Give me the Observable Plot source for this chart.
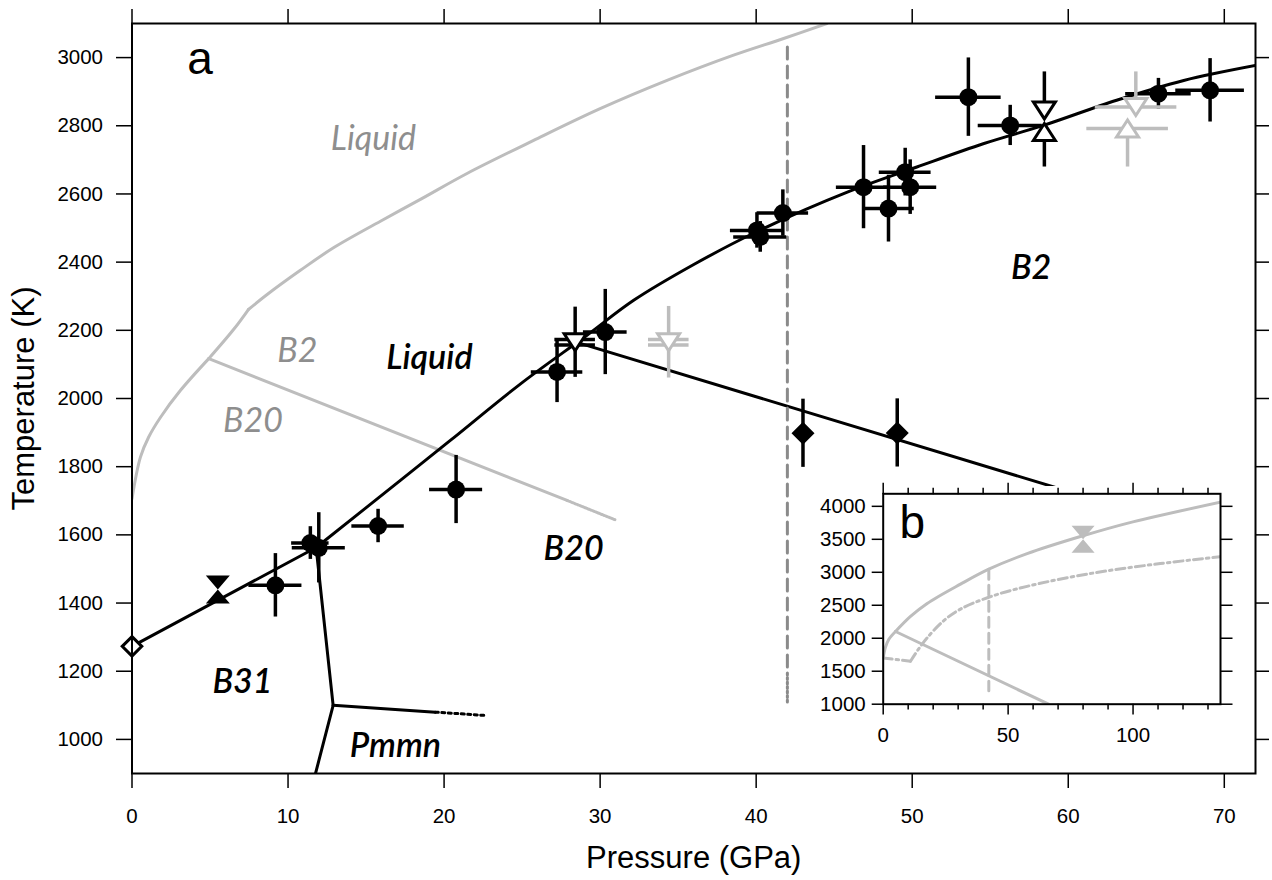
<!DOCTYPE html>
<html><head><meta charset="utf-8">
<script src="https://cdn.jsdelivr.net/npm/d3@7"></script>
<script src="https://cdn.jsdelivr.net/npm/@observablehq/plot@0.6"></script>
<style>
body{margin:0;background:#fff;}
#wrap{position:relative;width:1272px;height:880px;overflow:hidden;background:#fff;}
#main{position:absolute;left:0;top:0;}
#inset{position:absolute;left:805px;top:486px;}
</style></head><body><div id="wrap"><div id="main"></div><div id="inset"></div></div>
<script>
// ================= MAIN PANEL (a) DATA =================
const xTicks = [0, 10, 20, 30, 40, 50, 60, 70];
const yTicks = [1000, 1200, 1400, 1600, 1800, 2000, 2200, 2400, 2600, 2800, 3000];

// grey computed liquidus (index 5 = B2/B20/liquid triple point, index 7 = kink)
const greyLiqP = [0, 0.54, 1.07, 1.83, 3.11, 4.92, 6.52, 7.46, 8.66, 10.79, 12.91, 15.92, 18.48, 21.47, 25.74, 30.0, 34.29, 38.55, 41.76, 44.53];
const greyLiqT = [1706, 1828, 1887, 1945, 2024, 2117, 2203, 2261, 2305, 2376, 2442, 2520, 2584, 2660, 2757, 2850, 2933, 3007, 3056, 3100];
// grey computed B2/B20 boundary
const greyBoundP = [4.92, 27.88];
const greyBoundT = [2117, 1701];
const greyBoundDotP = [27.88, 30.97];
const greyBoundDotT = [1701, 1644];

// black experimental melting curve
const meltLowP = [0, 11.8];
const meltLowT = [1273, 1563];
const meltP = [11.8, 17.2, 20.4, 24.9, 29.2, 32.15, 36.0, 39.8, 46.0, 50.3, 54.6, 58.4, 63.1, 67.4, 72];
const meltT = [1563, 1760, 1877, 2043, 2187, 2288, 2393, 2484, 2608, 2679, 2748, 2801, 2875, 2933, 2977];
// black B20/B2 boundary
const b20b2P = [28.4, 62];
const b20b2T = [2166, 1700];
// B31/B20 boundary
const b31P = [11.8, 12.89];
const b31T = [1563, 1100];
// Pmmn boundaries
const pmmnUpP = [12.89, 19.44];
const pmmnUpT = [1100, 1080];
const pmmnDotP = [19.44, 22.75];
const pmmnDotT = [1080, 1070];
const pmmnLowP = [12.89, 11.76];
const pmmnLowT = [1100, 900];
// vertical dashed line at 42 GPa
const vDashP = [42, 42];
const vDashT = [3031, 1195];
const vDotT = [1195, 1108];

// filled circles with error bars
const circP  = [9.19, 11.43, 11.97, 15.77, 20.77, 27.24, 30.33, 40.05, 40.26, 41.71, 46.88, 48.48, 49.55, 49.87, 53.6, 56.28, 65.78, 69.09];
const circT  = [1452, 1576, 1562, 1626, 1733, 2078, 2195, 2493, 2474, 2544, 2620, 2557, 2664, 2620, 2884, 2801, 2894, 2904];
const circDP = [1.7, 1.2, 1.7, 1.68, 1.7, 1.65, 1.4, 1.7, 1.7, 1.65, 1.74, 1.65, 1.66, 1.7, 2.1, 2.05, 2.1, 2.2];
const circDT = [93, 48, 103, 49, 100, 90, 125, 52, 45, 68, 122, 98, 70, 80, 115, 59, 45, 93];

// open triangles
const triP    = [28.4, 34.39, 58.47, 58.47, 64.33, 63.8];
const triT    = [2165, 2165, 2845, 2782, 2855, 2792];
const triDir  = ["down", "down", "down", "up", "down", "up"];
const triGrey = [false, true, false, false, true, true];
const triLoT  = [2062, 2060, 2845, 2679, 2855, 2679];
const triHiT  = [2268, 2270, 2958, 2782, 2958, 2792];
const triLoP  = [27.1, 33.1, null, null, 61.73, 61.19];
const triHiP  = [29.7, 35.7, null, null, 66.96, 66.42];
const triBarSplit = [8, 8, 0, 0, 0, 0];

// filled diamonds
const diaP = [43.0, 49.04];
const diaT = [1898, 1899];
const diaDT = [100, 100];
// open diamond (ambient melting point) and filled hourglass
const openDiaP = [0];
const openDiaT = [1273];
const hourP = [5.5];
const hourT = [1440];

// labels
const greyLabels = ["Liquid", "B2", "B20"];
const greyLabelP = [15.47, 10.6, 7.75];
const greyLabelT = [2728, 2106, 1901];
const blackLabels = ["Liquid", "B2", "B20", "B31", "Pmmn"];
const blackLabelP = [19.06, 57.62, 28.3, 7.08, 16.88];
const blackLabelT = [2088, 2352, 1525, 1135, 947];

// ================= INSET PANEL (b) DATA =================
const inXMajor = [0, 50, 100];
const inXMinor = [10, 20, 30, 40, 60, 70, 80, 90, 110, 120, 130];
const inYTicks = [1000, 1500, 2000, 2500, 3000, 3500, 4000];
// index 3 = triple point
const inLiqP = [0, 0.93, 2.27, 4.93, 10.93, 17.6, 30.93, 42.27, 57.6, 80.27, 97.6, 134.9];
const inLiqT = [1700, 1865, 1984, 2102, 2330, 2527, 2820, 3047, 3283, 3557, 3742, 4063];
const inDDP = [0, 10.93, 14.27, 17.6, 24.27, 30.93, 42.27, 57.6, 84.27, 110.9, 134.9];
const inDDT = [1700, 1652, 1842, 2007, 2267, 2442, 2622, 2787, 2990, 3132, 3236];
const inBoundP = [4.93, 66.2];
const inBoundT = [2102, 1000];
const inDashP = [42.27, 42.27];
const inDashT = [3047, 1204];
const inHourP = [80];
const inHourT = [3500];

// ================= helpers =================
const rows = (P, T, extra = {}) => P.map((p, i) => ({P: p, T: T[i], ...extra}));
const segs = (P, T, breaks) => {
  const out = [];
  const cuts = [0, ...breaks, P.length - 1];
  for (let s = 0; s < cuts.length - 1; s++)
    for (let i = cuts[s]; i <= cuts[s + 1]; i++) out.push({P: P[i], T: T[i], s});
  return out;
};
const sym = fn => ({draw(ctx, size) { const r = Math.sqrt(size / Math.PI); fn(ctx, r); }});
const triDown = sym((c, r) => { c.moveTo(-1.1*r, -0.85*r); c.lineTo(1.1*r, -0.85*r); c.lineTo(0, 0.85*r); c.closePath(); });
const triUp = sym((c, r) => { c.moveTo(-1.1*r, 0.85*r); c.lineTo(1.1*r, 0.85*r); c.lineTo(0, -0.85*r); c.closePath(); });
const hourglass = sym((c, r) => {
  c.moveTo(-1.2*r, -1.4*r); c.lineTo(1.2*r, -1.4*r); c.lineTo(0, 0); c.closePath();
  c.moveTo(-1.2*r, 1.4*r); c.lineTo(1.2*r, 1.4*r); c.lineTo(0, 0); c.closePath();
});
const diamond = sym((c, r) => { c.moveTo(0, -1.15*r); c.lineTo(1.15*r, 0); c.lineTo(0, 1.15*r); c.lineTo(-1.15*r, 0); c.closePath(); });

const GREYLINE = "#bdbdbd", GREYTEXT = "#8e8e8e", DASHGREY = "#8a8a8a";
const LABELFONT = "Lato, 'Open Sans', sans-serif";
const AXISFONT = "'Liberation Sans', Arial, Helvetica, sans-serif";
const TICKFONT = 20.5;
const STYLE = {fontFamily: AXISFONT, background: "white", overflow: "visible", color: "black"};
const noLabel = () => "";

const circles = circP.map((p, i) => ({P: p, T: circT[i], dP: circDP[i], dT: circDT[i]}));
const tris = triP.map((p, i) => ({P: p, T: triT[i], dir: triDir[i], grey: triGrey[i], lo: triLoT[i], hi: triHiT[i], p1: triLoP[i], p2: triHiP[i], split: triBarSplit[i]}));
const triHBars = tris.filter(d => d.p1 != null).flatMap(d => d.split ? [{...d, yb: d.T + d.split}, {...d, yb: d.T - d.split}] : [{...d, yb: d.T}]);
const diamonds = diaP.map((p, i) => ({P: p, T: diaT[i], dT: diaDT[i]}));

const main = Plot.plot({
  width: 1272, height: 880,
  marginLeft: 131.5, marginRight: 17, marginTop: 23, marginBottom: 107,
  x: {domain: [0, 72]},
  y: {domain: [900, 3100]},
  style: STYLE,
  marks: [
    Plot.line(segs(greyLiqP, greyLiqT, [5, 7]), {x: "P", y: "T", z: "s", curve: "catmull-rom", stroke: GREYLINE, strokeWidth: 3, clip: true}),
    Plot.line(rows(greyBoundP, greyBoundT), {x: "P", y: "T", stroke: GREYLINE, strokeWidth: 3}),
    Plot.line(rows(greyBoundDotP, greyBoundDotT), {x: "P", y: "T", stroke: GREYLINE, strokeWidth: 3, strokeDasharray: "1.2,1.6"}),
    Plot.line(rows(meltLowP, meltLowT), {x: "P", y: "T", stroke: "black", strokeWidth: 3}),
    Plot.line(rows(meltP, meltT), {x: "P", y: "T", curve: "catmull-rom", stroke: "black", strokeWidth: 3, clip: true}),
    Plot.line(rows(b20b2P, b20b2T), {x: "P", y: "T", stroke: "black", strokeWidth: 3}),
    Plot.line(rows(b31P, b31T), {x: "P", y: "T", stroke: "black", strokeWidth: 3}),
    Plot.line(rows(pmmnUpP, pmmnUpT), {x: "P", y: "T", stroke: "black", strokeWidth: 3}),
    Plot.line(rows(pmmnDotP, pmmnDotT), {x: "P", y: "T", stroke: "black", strokeWidth: 3, strokeDasharray: "3,3.5"}),
    Plot.line(rows(pmmnLowP, pmmnLowT), {x: "P", y: "T", stroke: "black", strokeWidth: 3, clip: true}),
    Plot.line(rows(vDashP, vDashT), {x: "P", y: "T", stroke: DASHGREY, strokeWidth: 3, strokeDasharray: "12,7"}),
    Plot.line(rows(vDashP, vDotT), {x: "P", y: "T", stroke: DASHGREY, strokeWidth: 3, strokeDasharray: "2,2.5"}),
    Plot.ruleX(circles, {x: "P", y1: d => d.T - d.dT, y2: d => d.T + d.dT, stroke: "black", strokeWidth: 3.5}),
    Plot.ruleY(circles, {y: "T", x1: d => d.P - d.dP, x2: d => d.P + d.dP, stroke: "black", strokeWidth: 3.5}),
    Plot.ruleX(tris, {x: "P", y1: "lo", y2: "hi", stroke: d => d.grey ? GREYLINE : "black", strokeWidth: 3.5}),
    Plot.ruleY(triHBars, {y: "yb", x1: "p1", x2: "p2", stroke: d => d.grey ? GREYLINE : "black", strokeWidth: 3.5}),
    Plot.ruleX(diamonds, {x: "P", y1: d => d.T - d.dT, y2: d => d.T + d.dT, stroke: "black", strokeWidth: 3.5}),
    Plot.dot(circles, {x: "P", y: "T", r: 9, fill: "black", stroke: "none"}),
    Plot.dot(tris.filter(d => d.dir === "down"), {x: "P", y: "T", r: 10, symbol: triDown, fill: "white", stroke: d => d.grey ? GREYLINE : "black", strokeWidth: 3}),
    Plot.dot(tris.filter(d => d.dir === "up"), {x: "P", y: "T", r: 10, symbol: triUp, fill: "white", stroke: d => d.grey ? GREYLINE : "black", strokeWidth: 3}),
    Plot.dot(diamonds, {x: "P", y: "T", r: 10, symbol: diamond, fill: "black", stroke: "none"}),
    Plot.dot(rows(openDiaP, openDiaT), {x: "P", y: "T", r: 8.5, symbol: diamond, fill: "white", stroke: "black", strokeWidth: 3}),
    Plot.dot(rows(hourP, hourT), {x: "P", y: "T", r: 10, symbol: hourglass, fill: "black", stroke: "none"}),
    Plot.text(greyLabels.map((t, i) => ({t, P: greyLabelP[i], T: greyLabelT[i]})), {x: "P", y: "T", text: "t", fill: GREYTEXT, fontSize: 34, fontStyle: "italic", fontFamily: LABELFONT, textAnchor: "middle", lineAnchor: "bottom"}),
    Plot.text(blackLabels.map((t, i) => ({t, P: blackLabelP[i], T: blackLabelT[i]})), {x: "P", y: "T", text: "t", fill: "black", fontSize: 34, fontStyle: "italic", fontWeight: 600, fontFamily: LABELFONT, textAnchor: "middle", lineAnchor: "bottom"}),
    Plot.text([{t: "a", P: 4.36, T: 2951}], {x: "P", y: "T", text: "t", fill: "black", fontSize: 46, fontFamily: AXISFONT, textAnchor: "middle", lineAnchor: "bottom"}),
    Plot.frame({stroke: "black", strokeWidth: 2}),
    // ticks (no built-in labels) on all four sides
    Plot.axisY({anchor: "left", ticks: yTicks, tickSize: 15.5, tickFormat: noLabel, label: null, strokeWidth: 1.5}),
    Plot.axisY({anchor: "right", ticks: yTicks, tickSize: 13, tickFormat: noLabel, label: null, strokeWidth: 1.5}),
    Plot.axisX({anchor: "bottom", ticks: xTicks, tickSize: 15, tickFormat: noLabel, label: null, strokeWidth: 1.5}),
    Plot.axisX({anchor: "top", ticks: xTicks, tickSize: 15, tickFormat: noLabel, label: null, strokeWidth: 1.5}),
    // tick labels as explicit text
    Plot.text(yTicks, {y: d => d, frameAnchor: "left", text: d => String(d), dx: -29, textAnchor: "end", lineAnchor: "middle", fontSize: TICKFONT, fontFamily: AXISFONT, fill: "black"}),
    Plot.text(xTicks, {x: d => d, frameAnchor: "bottom", text: d => String(d), dy: 35, textAnchor: "middle", lineAnchor: "top", fontSize: TICKFONT, fontFamily: AXISFONT, fill: "black"}),
    Plot.text(["Temperature (K)"], {frameAnchor: "left", text: d => d, rotate: -90, dx: -107.5, fontSize: 31, fontFamily: AXISFONT, lineAnchor: "middle", textAnchor: "middle", fill: "black"}),
    Plot.text(["Pressure (GPa)"], {frameAnchor: "bottom", text: d => d, dy: 94, fontSize: 31, fontFamily: AXISFONT, lineAnchor: "bottom", textAnchor: "middle", fill: "black"})
  ]
});
document.getElementById("main").appendChild(main);

const inset = Plot.plot({
  width: 435, height: 276,
  marginLeft: 77.7, marginRight: 20, marginTop: 7.3, marginBottom: 58.3,
  x: {domain: [0, 135]},
  y: {domain: [1000, 4190]},
  style: STYLE,
  marks: [
    Plot.line(segs(inLiqP, inLiqT, [3]), {x: "P", y: "T", z: "s", curve: "catmull-rom", stroke: GREYLINE, strokeWidth: 3, clip: true}),
    Plot.line(segs(inDDP, inDDT, [1]), {x: "P", y: "T", z: "s", curve: "catmull-rom", stroke: GREYLINE, strokeWidth: 3, strokeDasharray: "9,4,2.5,4", clip: true}),
    Plot.line(rows(inBoundP, inBoundT), {x: "P", y: "T", stroke: GREYLINE, strokeWidth: 3, clip: true}),
    Plot.line(rows(inDashP, inDashT), {x: "P", y: "T", stroke: GREYLINE, strokeWidth: 3, strokeDasharray: "10,6"}),
    Plot.dot(rows(inHourP, inHourT), {x: "P", y: "T", r: 9.6, symbol: hourglass, fill: GREYLINE, stroke: "none"}),
    Plot.text([{t: "b", P: 11.6, T: 3520}], {x: "P", y: "T", text: "t", fill: "black", fontSize: 46, fontFamily: AXISFONT, textAnchor: "middle", lineAnchor: "bottom"}),
    Plot.frame({stroke: "black", strokeWidth: 2}),
    Plot.axisY({anchor: "left", ticks: inYTicks, tickSize: 11, tickFormat: noLabel, label: null, strokeWidth: 1.5}),
    Plot.axisY({anchor: "right", ticks: inYTicks, tickSize: 11.5, tickFormat: noLabel, label: null, strokeWidth: 1.5}),
    Plot.axisX({anchor: "bottom", ticks: inXMajor, tickSize: 10.7, tickFormat: noLabel, label: null, strokeWidth: 1.5}),
    Plot.axisX({anchor: "bottom", ticks: inXMinor, tickSize: 5.7, tickFormat: noLabel, label: null, strokeWidth: 1.5}),
    Plot.axisX({anchor: "top", ticks: inXMajor, tickSize: 11.5, tickFormat: noLabel, label: null, strokeWidth: 1.5}),
    Plot.axisX({anchor: "top", ticks: inXMinor, tickSize: 6.5, tickFormat: noLabel, label: null, strokeWidth: 1.5}),
    Plot.text(inYTicks, {y: d => d, frameAnchor: "left", text: d => String(d), dx: -17.5, textAnchor: "end", lineAnchor: "middle", fontSize: TICKFONT, fontFamily: AXISFONT, fill: "black"}),
    Plot.text(inXMajor, {x: d => d, frameAnchor: "bottom", text: d => String(d), dy: 23.5, textAnchor: "middle", lineAnchor: "top", fontSize: TICKFONT, fontFamily: AXISFONT, fill: "black"})
  ]
});
document.getElementById("inset").appendChild(inset);
</script>
</body></html>
